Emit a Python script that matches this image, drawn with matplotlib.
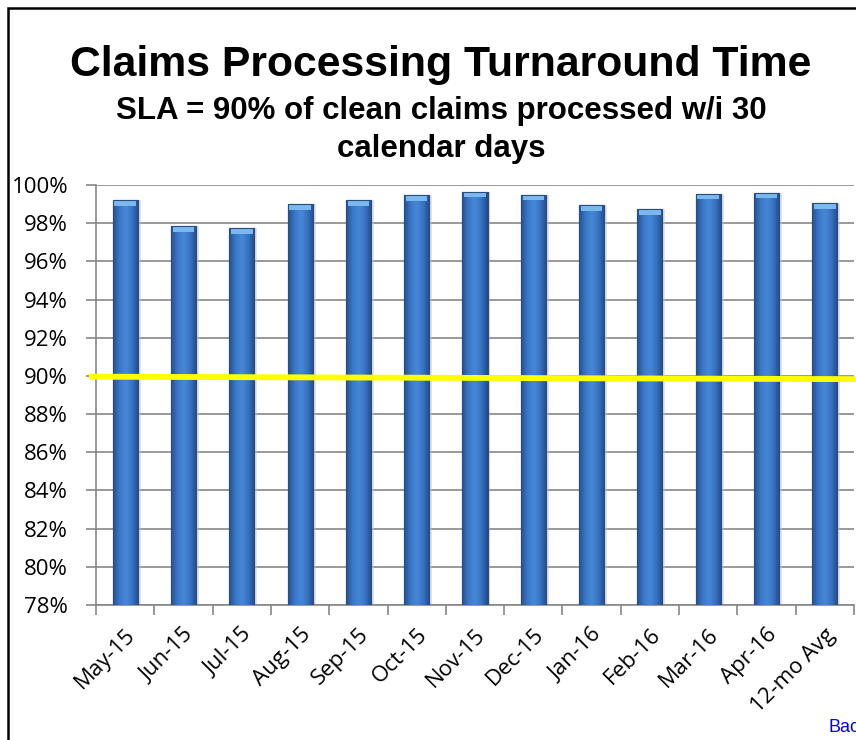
import numpy as np
import matplotlib.pyplot as plt
from matplotlib.patches import Rectangle
from matplotlib.colors import LinearSegmentedColormap

months = ["May-15", "Jun-15", "Jul-15", "Aug-15", "Sep-15", "Oct-15", "Nov-15",
          "Dec-15", "Jan-16", "Feb-16", "Mar-16", "Apr-16", "12-mo Avg"]
pct_processed = [99.2, 97.85, 97.75, 99.0, 99.2, 99.45, 99.65,
                 99.5, 98.95, 98.75, 99.55, 99.6, 99.05]
sla_line = [89.96, 89.83]
y_ticks = [78, 80, 82, 84, 86, 88, 90, 92, 94, 96, 98, 100]

title = "Claims Processing Turnaround Time"
subtitle = "SLA = 90% of clean claims processed w/i 30\ncalendar days"

fig = plt.figure(figsize=(8.56, 7.40), dpi=100)
ax = fig.add_axes([96 / 856, 1 - 605 / 740, 758 / 856, 420 / 740])

x = np.arange(len(months))
bar_w = 0.43
ymin, ymax = 78, 100

# cylinder-like shading across each bar
body = LinearSegmentedColormap.from_list(
    "body", ["#24508f", "#3a78c6", "#4788d6", "#3674c2", "#22498a"])
grad = np.linspace(0, 1, 64).reshape(1, -1)

for xi, val in zip(x, pct_processed):
    # soft shadow on the right side
    ax.add_patch(Rectangle((xi - bar_w / 2 + 0.05, ymin), bar_w, val - ymin,
                           facecolor="#c8c8c8", edgecolor="none", alpha=0.5, zorder=2))
    bar = ax.bar(xi, val - ymin, bottom=ymin, width=bar_w,
                 color="#3a78c6", edgecolor="#2a4f7e", linewidth=0.8, zorder=3)[0]
    im = ax.imshow(grad, cmap=body, aspect="auto", zorder=3.5,
                   extent=[xi - bar_w / 2, xi + bar_w / 2, ymin, val])
    im.set_clip_path(bar)
    # lighter top cap
    ax.add_patch(Rectangle((xi - bar_w / 2 + 0.03, val - 0.3), bar_w - 0.06, 0.3,
                           facecolor="#7cb8f0", edgecolor="none", zorder=4))
    ax.add_patch(Rectangle((xi - bar_w / 2, ymin), bar_w, val - ymin,
                           facecolor="none", edgecolor="#2a4f7e", linewidth=0.8, zorder=5))

ax.plot([-0.62, 12.53], sla_line, color="#ffff00", linewidth=4.2,
        solid_capstyle="butt", zorder=6, clip_on=False)

ax.set_xlim(-0.5, 12.5)
ax.set_ylim(ymin, ymax)

ax.set_yticks(y_ticks)
ax.set_yticklabels([f"{v}%" for v in y_ticks], fontsize=16, family="Open Sans")
ax.yaxis.grid(True, color="#878787", linewidth=1.2)
ax.set_axisbelow(True)

ax.set_xticks(x)
ax.set_xticklabels(months, rotation=45, ha="right", rotation_mode="anchor",
                   fontsize=16, family="Open Sans")
ax.set_xticks(np.arange(-0.5, 13, 1), minor=True)
ax.tick_params(axis="x", which="major", length=0, pad=14)
ax.tick_params(axis="x", which="minor", length=7, color="#878787", width=1.2)
ax.tick_params(axis="y", length=7, color="#878787", width=1.2, pad=13)

for side in ["top", "right"]:
    ax.spines[side].set_visible(False)
for side in ["left", "bottom"]:
    ax.spines[side].set_color("#878787")
    ax.spines[side].set_linewidth(1.2)

fig.text(441 / 856, 1 - 65 / 740, title, ha="center", va="center",
         fontsize=30.8, fontweight="bold", family="Liberation Sans")
fig.text(441 / 856, 1 - 130 / 740, subtitle, ha="center", va="center",
         fontsize=22.5, fontweight="bold", family="Liberation Sans", linespacing=1.32)

# outer frame, partly cut off at right and bottom
fig.patches.append(Rectangle((8 / 856, -0.1), 1.2, 1.1 - 8 / 740,
                             transform=fig.transFigure, fill=False,
                             edgecolor="black", linewidth=1.8))
fig.text(829 / 856, 1 - 727 / 740, "Back", color="#0000ff", fontsize=13,
         va="center", ha="left", family="Liberation Sans")

fig.savefig("out.png", dpi=100)
